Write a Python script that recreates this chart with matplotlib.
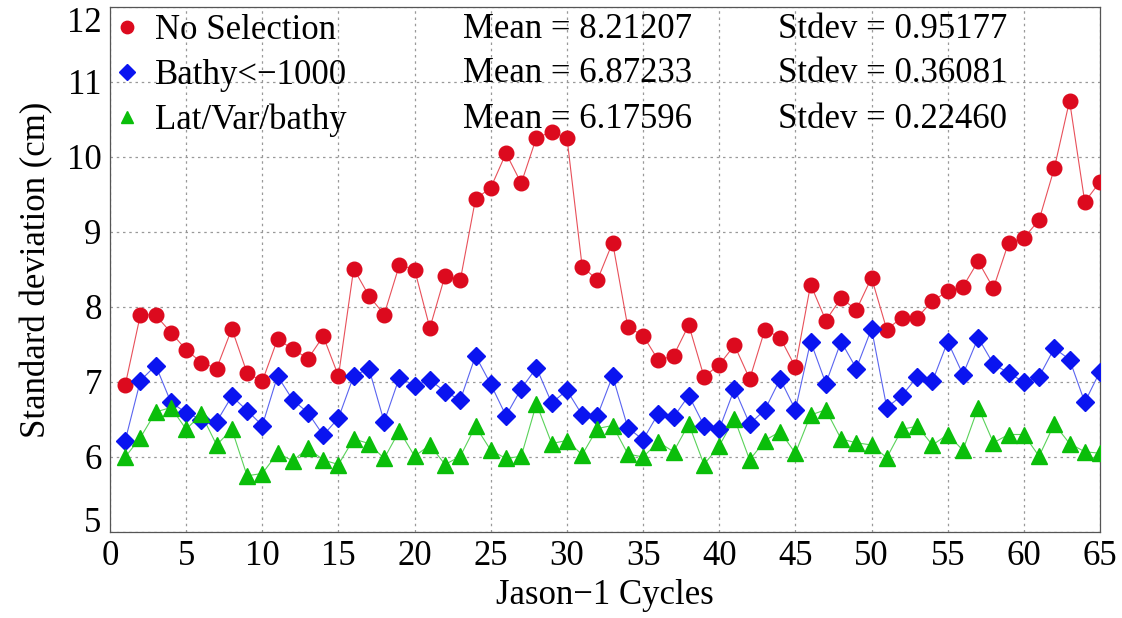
import matplotlib
matplotlib.use('Agg')
import matplotlib.pyplot as plt
from matplotlib.lines import Line2D

plt.rcParams['font.family'] = ['Liberation Serif', 'DejaVu Serif']

# Données
cycles = list(range(1, 66))

no_selection = [
    6.96, 7.90, 7.89, 7.66, 7.43, 7.26, 7.18, 7.71, 7.12, 7.01,
    7.57, 7.44, 7.31, 7.61, 7.08, 8.51, 8.15, 7.90, 8.56, 8.50,
    7.72, 8.42, 8.36, 9.44, 9.59, 10.05, 9.65, 10.26, 10.33, 10.26,
    8.54, 8.36, 8.86, 7.73, 7.62, 7.29, 7.35, 7.76, 7.07, 7.23,
    7.49, 7.04, 7.70, 7.59, 7.20, 8.30, 7.82, 8.12, 7.96, 8.39,
    7.70, 7.86, 7.86, 8.08, 8.21, 8.27, 8.61, 8.25, 8.86, 8.92,
    9.16, 9.85, 10.75, 9.40, 9.67,
]

bathy = [
    6.22, 7.02, 7.22, 6.73, 6.59, 6.50, 6.47, 6.81, 6.62, 6.42,
    7.08, 6.76, 6.59, 6.29, 6.52, 7.08, 7.18, 6.47, 7.06, 6.95,
    7.03, 6.87, 6.76, 7.35, 6.97, 6.55, 6.91, 7.19, 6.72, 6.89,
    6.56, 6.55, 7.08, 6.39, 6.23, 6.58, 6.53, 6.82, 6.42, 6.37,
    6.91, 6.44, 6.63, 7.04, 6.63, 7.54, 6.98, 7.54, 7.18, 7.71,
    6.66, 6.82, 7.07, 7.01, 7.54, 7.10, 7.59, 7.24, 7.12, 7.00,
    7.07, 7.45, 7.30, 6.73, 7.14,
]

lat_var_bathy = [
    6.00, 6.26, 6.60, 6.66, 6.37, 6.57, 6.16, 6.37, 5.75, 5.78,
    6.05, 5.95, 6.12, 5.96, 5.90, 6.24, 6.18, 5.98, 6.35, 6.01,
    6.16, 5.90, 6.01, 6.41, 6.09, 5.98, 6.01, 6.71, 6.18, 6.22,
    6.03, 6.38, 6.42, 6.04, 6.00, 6.20, 6.07, 6.44, 5.90, 6.15,
    6.51, 5.96, 6.22, 6.34, 6.05, 6.56, 6.63, 6.24, 6.19, 6.16,
    5.99, 6.37, 6.41, 6.16, 6.30, 6.09, 6.66, 6.19, 6.30, 6.30,
    6.01, 6.44, 6.18, 6.07, 6.05,
]

labels = ['No Selection', 'Bathy<\u22121000', 'Lat/Var/bathy']
means = ['8.21207', '6.87233', '6.17596']
stdevs = ['0.95177', '0.36081', '0.22460']

colors = ['#dc0a1e', '#0a14f0', '#0abe0a']
line_colors = ['#e8505a', '#5a64f0', '#5ad25a']
markers = ['o', 'D', '^']
msizes = [10.5, 9.5, 11]

fig = plt.figure(figsize=(11.22, 6.18), dpi=100)
ax = fig.add_axes([110 / 1122, 86 / 618, 990 / 1122, 525 / 618])

series = [no_selection, bathy, lat_var_bathy]
for vals, c, lc, m, ms in zip(series, colors, line_colors, markers, msizes):
    ax.plot(cycles, vals, color=lc, lw=0.8, zorder=2)
    ax.plot(cycles, vals, ls='none', marker=m, ms=ms, color=c,
            markeredgecolor=c, zorder=3)

ax.set_xlim(0, 65)
ax.set_ylim(5, 12)
ax.set_xticks(range(0, 66, 5))
ax.set_yticks(range(5, 13))
ax.grid(True, color='#999999', ls=(0, (2, 3)), lw=0.9)
ax.tick_params(length=0, labelsize=25, pad=6)
for s in ax.spines.values():
    s.set_color('#555555')
    s.set_linewidth(0.9)

# les étiquettes extrêmes restent dans le cadre
ylabs = ax.get_yticklabels()
ylabs[-1].set_va('top')
ylabs[0].set_va('baseline')

ax.set_xlabel('Jason\u22121 Cycles', fontsize=25, labelpad=4)
ax.set_ylabel('Standard deviation (cm)', fontsize=25, labelpad=10)

# Légende manuelle sans cadre
handles = [Line2D([], [], ls='none', marker=m, ms=ms * 0.85, color=c)
           for m, ms, c in zip(markers, msizes, colors)]
ax.legend(handles, labels, loc='upper left', frameon=False, fontsize=25,
          handlelength=0.6, handletextpad=0.5, labelspacing=0.34,
          borderaxespad=0.0, borderpad=0.2)

row_y = [29, 74, 119]
for y, mu, sd in zip(row_y, means, stdevs):
    fy = 1 - y / 618
    fig.text(463 / 1122, fy, 'Mean = ' + mu, fontsize=25, va='center')
    fig.text(778 / 1122, fy, 'Stdev = ' + sd, fontsize=25, va='center')

fig.savefig('out.png', dpi=100)
